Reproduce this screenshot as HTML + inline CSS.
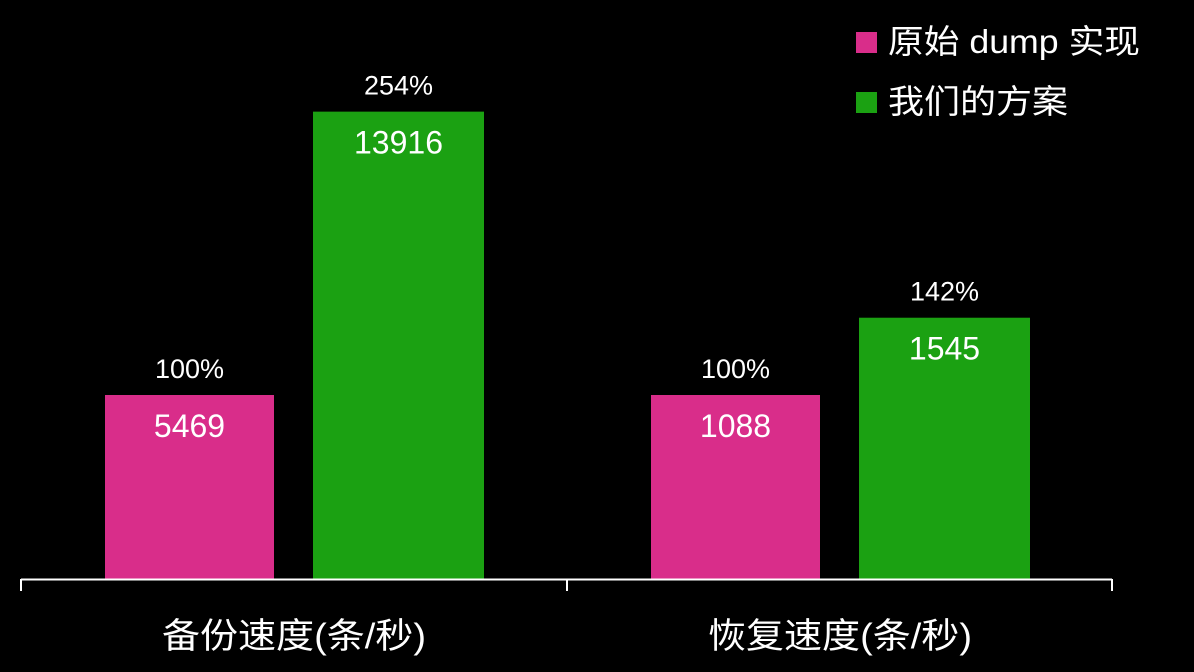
<!DOCTYPE html>
<html><head><meta charset="utf-8"><style>
html,body{margin:0;background:#000;overflow:hidden;}
svg{display:block;}
svg text{font-family:"Liberation Sans","Noto Sans CJK SC",sans-serif;fill:#fff;}
</style></head><body>
<svg width="1194" height="672" viewBox="0 0 1194 672">
<g id="plot"></g>
<g>
<rect x="856" y="32" width="21" height="21" fill="#d92d8a"/>
<text x="888" y="53" font-size="33" textLength="252" lengthAdjust="spacingAndGlyphs">原始 dump 实现</text>
<rect x="856" y="92" width="21" height="21" fill="#1ba112"/>
<text x="888" y="113" font-size="33" textLength="180" lengthAdjust="spacingAndGlyphs">我们的方案</text>
</g>
</svg>
<script>
const categories=["备份速度(条/秒)","恢复速度(条/秒)"];
const originalValues=[5469,1088];
const oursValues=[13916,1545];
const NS="http://www.w3.org/2000/svg";
const g=document.getElementById('plot');
const baseY=579, pxPerPct=184/100, groupStart=21, groupW=546;
function y(p){return baseY-p*pxPerPct;}
function mk(tag,attrs,txt){const e=document.createElementNS(NS,tag);for(const k in attrs)e.setAttribute(k,attrs[k]);if(txt!=null)e.textContent=txt;g.appendChild(e);return e;}
categories.forEach((c,i)=>{
  const gx=groupStart+i*groupW;
  const series=[{v:originalValues[i],p:100,off:84,w:169,col:"#d92d8a",n:"original"},
                {v:oursValues[i],p:Math.round(oursValues[i]/originalValues[i]*100),off:292,w:171,col:"#1ba112",n:"ours"}];
  series.forEach(s=>{
    const x=gx+s.off, top=y(s.p);
    const r=mk('rect',{x:x,y:top,width:s.w,height:baseY-top,fill:s.col});
    
    
    const t1=mk('text',{x:x+s.w/2,y:top+42,'font-size':32,'text-anchor':'middle'},String(s.v));
    
    
    const t2=mk('text',{x:x+s.w/2,y:top-17,'font-size':27,'text-anchor':'middle'},s.p+'%');
    
    
  });
  const cl=mk('text',{x:gx+groupW/2,y:648,'font-size':35,'text-anchor':'middle',textLength:264,lengthAdjust:'spacingAndGlyphs'},c);
  
  
});
const ax=mk('line',{x1:21,y1:579.5,x2:1112,y2:579.5,stroke:'#fff','stroke-width':2});


for(let i=0;i<=categories.length;i++){
  const tx=groupStart+i*groupW+(i==categories.length?-1:0);
  const tk=mk('line',{x1:tx,y1:579,x2:tx,y2:591,stroke:'#fff','stroke-width':2});
  
  
}
</script>
</body></html>
